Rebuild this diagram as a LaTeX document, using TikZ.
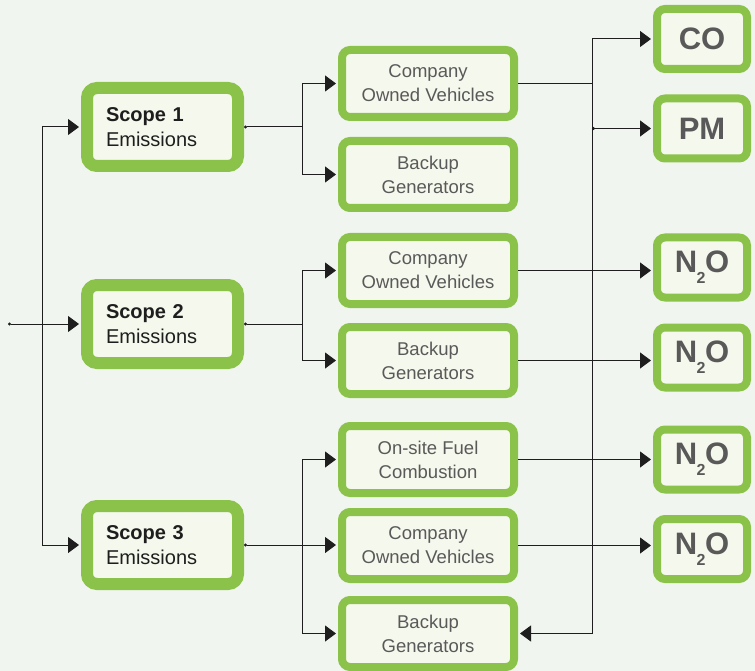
\documentclass[tikz,border=0pt]{standalone}
\usepackage{fontspec}
\setmainfont{Liberation Sans}
\usetikzlibrary{arrows.meta}

\definecolor{bgpale}{HTML}{F0F5F0}
\definecolor{boxfill}{HTML}{F5F8EC}
\definecolor{leaf}{HTML}{8BC34A}
\definecolor{ink}{HTML}{1E1E1E}
\definecolor{greytext}{HTML}{595959}

\newcommand{\ntwoo}{N\kern-0.5pt\raisebox{-11pt}{\fontsize{16}{16}\selectfont 2}\kern-0.5pt O}

\tikzset{
  scopebox/.style={draw=leaf, fill=boxfill, line width=12pt, rounded corners=10pt,
    minimum width=151pt, minimum height=78pt, text width=113pt, align=left,
    inner sep=0pt, font=\fontsize{20}{25}\selectfont, text=ink},
  sourcebox/.style={draw=leaf, fill=boxfill, line width=8pt, rounded corners=8pt,
    minimum width=172pt, minimum height=67pt, align=center, inner sep=0pt,
    font=\fontsize{18.5}{24}\selectfont, text=greytext},
  gasbox/.style={draw=leaf, fill=boxfill, line width=8pt, rounded corners=8pt,
    minimum width=90pt, minimum height=60pt, inner sep=0pt,
    font=\fontsize{31}{31}\selectfont\bfseries, text=greytext},
  link/.style={draw=ink, line width=1pt},
  flow/.style={link, ->, shorten >=2pt},
  dotlink/.style={link, {Circle[length=3pt]}-},
  dotflow/.style={link, {Circle[length=3pt]}->, shorten >=2pt},
}

\begin{document}
\begin{tikzpicture}[x=1pt, y=-1pt, >={Triangle[length=11pt,width=16pt]}]
    \fill[bgpale] (0,0) rectangle (755,671);
    \useasboundingbox (0,0) rectangle (755,671);

    % Nodes
    \node[scopebox] (s1) at (162.5,127) {\textbf{Scope 1}\\Emissions};
    \node[scopebox] (s2) at (162.5,324) {\textbf{Scope 2}\\Emissions};
    \node[scopebox] (s3) at (162.5,545) {\textbf{Scope 3}\\Emissions};

    \node[sourcebox] (m1) at (428,83.5) {Company\\Owned Vehicles};
    \node[sourcebox] (m2) at (428,174.5) {Backup\\Generators};
    \node[sourcebox] (m3) at (428,270.5) {Company\\Owned Vehicles};
    \node[sourcebox] (m4) at (428,360.5) {Backup\\Generators};
    \node[sourcebox] (m5) at (428,459.5) {On-site Fuel\\Combustion};
    \node[sourcebox] (m6) at (428,545.5) {Company\\Owned Vehicles};
    \node[sourcebox] (m7) at (428,633.5) {Backup\\Generators};

    \node[gasbox] (g1) at (702,39) {CO};
    \node[gasbox] (g2) at (702,128.5) {PM};
    \node[gasbox] (g3) at (702,267.5) {\ntwoo};
    \node[gasbox] (g4) at (702,357.5) {\ntwoo};
    \node[gasbox] (g5) at (702,459.5) {\ntwoo};
    \node[gasbox] (g6) at (702,549) {\ntwoo};

    % Junctions
    \coordinate (src) at (8,324);
    \coordinate (lt) at (42,324);
    \coordinate (j1) at (302,127);
    \coordinate (j2) at (302,324);
    \coordinate (j3) at (302,545);
    \coordinate (rt) at (592,83.5);

    % Connections
    \draw[dotflow] (src) -- (s2.west);
    \draw[flow] (lt) |- (s1.west);
    \draw[flow] (lt) |- (s3.west);

    \draw[dotlink] (s1.east) -- (j1);
    \draw[flow] (j1) |- (m1.west);
    \draw[flow] (j1) |- (m2.west);

    \draw[dotlink] (s2.east) -- (j2);
    \draw[flow] (j2) |- (m3.west);
    \draw[flow] (j2) |- (m4.west);

    \draw[dotflow] (s3.east) -- (s3.east -| m6.west);
    \draw[flow] (j3) |- (m5.west);
    \draw[flow] (j3) |- (m7.west);

    \draw[link] (m1.east) -- (rt);
    \draw[flow] (rt) |- (g1.west);
    \draw[dotflow] (rt |- g2) -- (g2.west);
    \draw[flow] (rt) |- (m7.east);

    \draw[flow] (m3.east) -- (m3.east -| g3.west);
    \draw[flow] (m4.east) -- (m4.east -| g4.west);
    \draw[flow] (m5.east) -- (m5.east -| g5.west);
    \draw[flow] (m6.east) -- (m6.east -| g6.west);
\end{tikzpicture}
\end{document}
